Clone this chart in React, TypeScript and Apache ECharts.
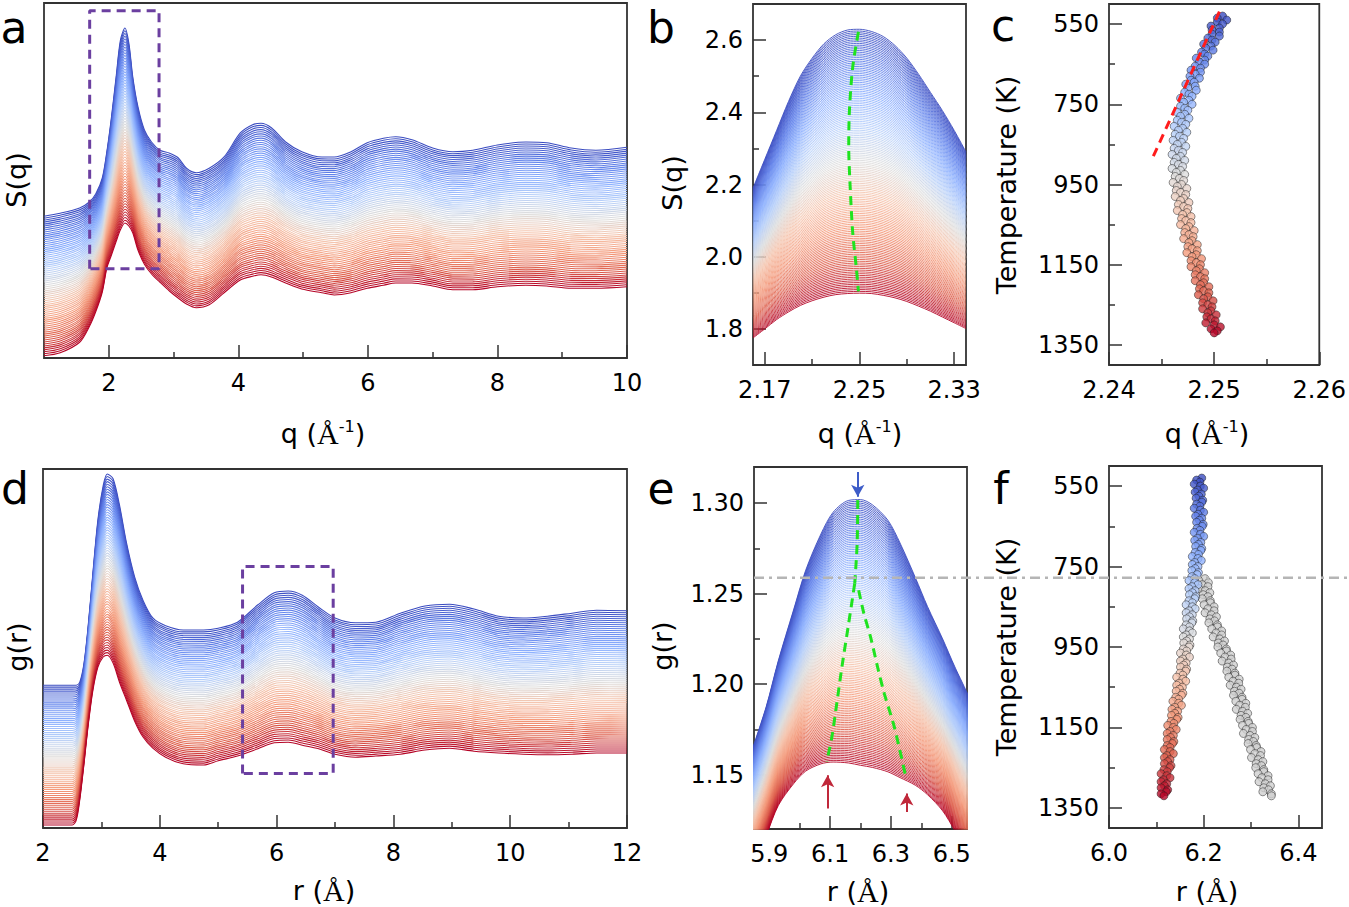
import React, { useEffect, useRef } from "react";
import * as echarts from "echarts";

const FONT = "DejaVu Sans";

// ---------- (a) S(q), waterfall (offset units, y axis hidden) ----------
const qA = [1.0, 1.25, 1.55, 1.7, 1.8, 1.9, 1.97, 2.04, 2.12, 2.18, 2.25, 2.31, 2.37, 2.45, 2.55, 2.66, 2.79, 2.94, 3.07, 3.2, 3.35, 3.55, 3.78, 4.03, 4.22, 4.35, 4.51, 4.73, 4.98, 5.29, 5.48, 5.74, 5.99, 6.24, 6.43, 6.68, 7.0, 7.31, 7.62, 8.0, 8.44, 8.76, 9.14, 9.52, 10.0];
const sqLowT_A = [1.89, 1.93, 2.0, 2.08, 2.19, 2.4, 2.75, 3.2, 3.8, 4.24, 4.4, 4.2, 3.75, 3.35, 3.04, 2.88, 2.77, 2.73, 2.67, 2.53, 2.47, 2.53, 2.68, 3.0, 3.11, 3.13, 3.07, 2.88, 2.75, 2.68, 2.68, 2.75, 2.87, 2.93, 2.95, 2.91, 2.8, 2.75, 2.77, 2.84, 2.88, 2.87, 2.8, 2.77, 2.81];
const sqHighT_A = [0.03, 0.07, 0.21, 0.42, 0.62, 0.88, 1.2, 1.37, 1.57, 1.71, 1.8, 1.76, 1.67, 1.44, 1.25, 1.12, 1.01, 0.89, 0.8, 0.72, 0.67, 0.71, 0.87, 1.04, 1.09, 1.11, 1.08, 1.0, 0.92, 0.87, 0.84, 0.87, 0.93, 0.97, 1.0, 1.0, 0.96, 0.91, 0.91, 0.95, 0.97, 0.96, 0.93, 0.93, 0.95];
const N_CURVES_A = 72;
const boxA_q = [1.705, 2.776];
const boxA_v = [1.19, 4.63];

// ---------- (b) S(q) near first peak ----------
const qB = [2.16, 2.17, 2.18, 2.19, 2.2, 2.21, 2.22, 2.23, 2.24, 2.25, 2.26, 2.27, 2.28, 2.29, 2.3, 2.31, 2.32, 2.33, 2.34];
const sqLowT_B = [2.19, 2.27, 2.35, 2.43, 2.5, 2.55, 2.59, 2.615, 2.628, 2.63, 2.624, 2.61, 2.585, 2.55, 2.505, 2.455, 2.405, 2.35, 2.29];
const sqHighT_B = [1.775, 1.8, 1.826, 1.847, 1.865, 1.878, 1.888, 1.895, 1.898, 1.899, 1.898, 1.893, 1.886, 1.876, 1.863, 1.849, 1.833, 1.817, 1.801];
const N_CURVES_B = 150;
const greenB = [[2.2491, 2.623], [2.2443, 2.526], [2.2415, 2.406], [2.2409, 2.305], [2.2421, 2.194], [2.2443, 2.065], [2.2472, 1.973], [2.2491, 1.904]];

// ---------- (c) peak position of S(q) vs temperature ----------
const T_START = 530;
const T_STEP = 5;
const qPeakC = [
  2.2508, 2.2503, 2.2512, 2.2503, 2.2508, 2.2497, 2.2505, 2.2498, 2.2505, 2.2498,
  2.2505, 2.2494, 2.2498, 2.2501, 2.249, 2.2497, 2.2492, 2.2499, 2.2488, 2.2491,
  2.2494, 2.2483, 2.2491, 2.2486, 2.2491, 2.2482, 2.2487, 2.2478, 2.2487, 2.2482,
  2.2477, 2.2486, 2.2478, 2.2481, 2.2473, 2.2482, 2.2475, 2.2483, 2.2472, 2.2476,
  2.2479, 2.2468, 2.2476, 2.2471, 2.2479, 2.2468, 2.2472, 2.2475, 2.2465, 2.2472,
  2.2468, 2.2476, 2.2465, 2.2469, 2.2473, 2.2462, 2.247, 2.2466, 2.2474, 2.2463,
  2.2467, 2.2471, 2.2461, 2.2469, 2.2465, 2.2473, 2.2462, 2.2466, 2.247, 2.246,
  2.2468, 2.2464, 2.2472, 2.2462, 2.2466, 2.247, 2.246, 2.2468, 2.2464, 2.2472,
  2.2463, 2.2467, 2.2471, 2.2461, 2.2469, 2.2465, 2.2474, 2.2464, 2.2468, 2.2473,
  2.2463, 2.2471, 2.2468, 2.2476, 2.2466, 2.2471, 2.2475, 2.2465, 2.2474, 2.247,
  2.2478, 2.2469, 2.2473, 2.2478, 2.2468, 2.2476, 2.2473, 2.2481, 2.2472, 2.2476,
  2.248, 2.2471, 2.2479, 2.2476, 2.2484, 2.2475, 2.2479, 2.2484, 2.2474, 2.2483,
  2.2479, 2.2488, 2.2478, 2.2483, 2.2487, 2.2478, 2.2486, 2.2483, 2.2491, 2.2482,
  2.2487, 2.2491, 2.2482, 2.249, 2.2487, 2.2495, 2.2486, 2.249, 2.2495, 2.2485,
  2.2494, 2.249, 2.2499, 2.2489, 2.2494, 2.2498, 2.2489, 2.2497, 2.2494, 2.2502,
  2.2493, 2.2497, 2.2501, 2.2492, 2.25, 2.2506, 2.2497, 2.2503, 2.25,
];
const redFitC = [[2.2505, 519], [2.244, 892]];

// ---------- (d) g(r), waterfall (offset units, y axis hidden) ----------
const rD = [2.0, 2.3, 2.5, 2.57, 2.63, 2.7, 2.77, 2.85, 2.94, 3.03, 3.1, 3.2, 3.31, 3.43, 3.57, 3.71, 3.88, 4.1, 4.4, 4.75, 5.0, 5.33, 5.68, 5.96, 6.2, 6.44, 6.72, 7.0, 7.35, 7.7, 8.12, 8.54, 8.96, 9.38, 9.8, 10.22, 10.64, 11.06, 11.48, 12.0];
const grLowT_D = [2.38, 2.38, 2.38, 2.38, 2.43, 2.73, 3.33, 4.2, 5.13, 5.7, 5.9, 5.82, 5.38, 4.75, 4.18, 3.8, 3.5, 3.37, 3.3, 3.3, 3.33, 3.43, 3.72, 3.92, 3.95, 3.88, 3.68, 3.5, 3.42, 3.43, 3.58, 3.7, 3.73, 3.65, 3.53, 3.5, 3.53, 3.58, 3.63, 3.62];
const grHighT_D = [0.05, 0.05, 0.05, 0.13, 0.47, 1.05, 1.68, 2.27, 2.68, 2.85, 2.88, 2.75, 2.43, 2.13, 1.78, 1.52, 1.33, 1.18, 1.07, 1.05, 1.12, 1.2, 1.32, 1.42, 1.43, 1.38, 1.32, 1.23, 1.18, 1.2, 1.23, 1.3, 1.33, 1.28, 1.25, 1.23, 1.22, 1.23, 1.25, 1.25];
const N_CURVES_D = 72;
const boxD_r = [5.417, 6.969];
const boxD_v = [0.91, 4.36];

// ---------- (e) g(r) near second peak ----------
const rE = [5.84, 5.89, 5.93, 5.98, 6.02, 6.07, 6.11, 6.16, 6.2, 6.24, 6.29, 6.33, 6.38, 6.42, 6.47, 6.51, 6.56];
const grLowT_E = [1.162, 1.1875, 1.213, 1.241, 1.263, 1.283, 1.295, 1.3015, 1.302, 1.299, 1.2906, 1.278, 1.259, 1.243, 1.225, 1.2096, 1.192];
const grHighT_E = [1.093, 1.116, 1.133, 1.145, 1.152, 1.156, 1.157, 1.1565, 1.1552, 1.154, 1.1516, 1.1484, 1.1442, 1.139, 1.13, 1.119, 1.104];
const N_CURVES_E = 150;
const greenE_main = [[6.191, 1.3017], [6.189, 1.2777], [6.181, 1.2556]];
const greenE_left = [[6.181, 1.2556], [6.161, 1.2335], [6.139, 1.2096], [6.122, 1.1893], [6.106, 1.1709], [6.089, 1.1571]];
const greenE_right = [[6.194, 1.2519], [6.211, 1.2391], [6.233, 1.2261], [6.256, 1.2096], [6.278, 1.1949], [6.311, 1.1764], [6.35, 1.1479]];
const arrowsE = [
  { from: [6.191, 1.3173], to: [6.191, 1.3035], color: "#3d5cc8" },
  { from: [6.092, 1.1313], to: [6.092, 1.1497], color: "#c0283a" },
  { from: [6.352, 1.1294], to: [6.352, 1.1396], color: "#c0283a" },
];
const GRAY_T = 778;

// ---------- (f) peak positions of g(r) vs temperature ----------
const rPeakLeftF = [
  6.196, 6.185, 6.192, 6.18, 6.193, 6.2, 6.187, 6.182, 6.195, 6.19,
  6.184, 6.198, 6.196, 6.185, 6.192, 6.18, 6.193, 6.2, 6.188, 6.183,
  6.196, 6.191, 6.185, 6.199, 6.197, 6.186, 6.192, 6.18, 6.193, 6.2,
  6.187, 6.181, 6.194, 6.189, 6.183, 6.196, 6.194, 6.182, 6.189, 6.176,
  6.188, 6.195, 6.181, 6.176, 6.188, 6.182, 6.175, 6.189, 6.186, 6.175,
  6.181, 6.169, 6.181, 6.188, 6.175, 6.169, 6.182, 6.176, 6.17, 6.183,
  6.181, 6.169, 6.176, 6.163, 6.176, 6.182, 6.169, 6.163, 6.176, 6.17,
  6.164, 6.177, 6.175, 6.163, 6.17, 6.157, 6.17, 6.176, 6.163, 6.157,
  6.17, 6.164, 6.158, 6.171, 6.169, 6.157, 6.164, 6.151, 6.163, 6.17,
  6.156, 6.151, 6.163, 6.158, 6.151, 6.164, 6.162, 6.15, 6.156, 6.143,
  6.156, 6.162, 6.148, 6.143, 6.155, 6.149, 6.142, 6.156, 6.153, 6.141,
  6.147, 6.135, 6.147, 6.153, 6.139, 6.133, 6.145, 6.139, 6.132, 6.146,
  6.143, 6.131, 6.137, 6.124, 6.136, 6.142, 6.129, 6.123, 6.136, 6.13,
  6.123, 6.137, 6.134, 6.123, 6.129, 6.117, 6.129, 6.136, 6.122, 6.117,
  6.129, 6.124, 6.117, 6.131, 6.128, 6.116, 6.123, 6.11, 6.122, 6.129,
  6.115, 6.11, 6.122, 6.117, 6.11, 6.124, 6.121, 6.11, 6.116,
];
const T_START_RIGHT = 780;
const rPeakRightF = [
  6.203, 6.19, 6.21, 6.197, 6.209, 6.19, 6.203, 6.213, 6.199, 6.209,
  6.197, 6.214, 6.214, 6.201, 6.222, 6.209, 6.222, 6.203, 6.216, 6.227,
  6.213, 6.223, 6.211, 6.229, 6.229, 6.217, 6.238, 6.226, 6.238, 6.22,
  6.234, 6.244, 6.231, 6.241, 6.23, 6.248, 6.248, 6.236, 6.257, 6.245,
  6.258, 6.239, 6.253, 6.263, 6.25, 6.26, 6.249, 6.266, 6.266, 6.253,
  6.275, 6.262, 6.274, 6.256, 6.269, 6.279, 6.265, 6.275, 6.263, 6.281,
  6.281, 6.268, 6.289, 6.276, 6.288, 6.269, 6.282, 6.293, 6.279, 6.289,
  6.277, 6.294, 6.295, 6.282, 6.303, 6.29, 6.303, 6.284, 6.298, 6.308,
  6.295, 6.305, 6.294, 6.311, 6.312, 6.299, 6.321, 6.308, 6.32, 6.301,
  6.315, 6.325, 6.311, 6.322, 6.31, 6.327, 6.327, 6.315, 6.336, 6.323,
  6.336, 6.317, 6.33, 6.341, 6.327, 6.337, 6.325, 6.343, 6.343,
];

// ---------- tick values ----------
const ticksA_x = [2, 4, 6, 8, 10];
const minorA_x = [3, 5, 7, 9];
const ticksB_x = [2.17, 2.25, 2.33];
const minorB_x = [2.21, 2.29];
const ticksB_y = [1.8, 2.0, 2.2, 2.4, 2.6];
const minorB_y = [1.7, 1.9, 2.1, 2.3, 2.5];
const ticksC_x = [2.24, 2.25, 2.26];
const minorC_x = [2.245, 2.255];
const ticksT = [550, 750, 950, 1150, 1350];
const minorT = [650, 850, 1050, 1250];
const ticksD_x = [2, 4, 6, 8, 10, 12];
const minorD_x = [3, 5, 7, 9, 11];
const ticksE_x = [5.9, 6.1, 6.3, 6.5];
const minorE_x = [6.0, 6.2, 6.4];
const ticksE_y = [1.15, 1.2, 1.25, 1.3];
const minorE_y = [1.125, 1.175, 1.225, 1.275];
const ticksF_x = [6.0, 6.2, 6.4];
const minorF_x = [6.1, 6.3];

// ---------- styling helpers ----------
const CW = [
  [59, 76, 192], [98, 130, 234], [141, 176, 254], [184, 208, 249], [221, 221, 221],
  [245, 196, 173], [244, 154, 123], [222, 96, 77], [180, 4, 38],
];
function coolwarm(t: number): string {
  const c = Math.max(0, Math.min(1, t)) * (CW.length - 1);
  const i = Math.min(CW.length - 2, Math.floor(c));
  const f = c - i;
  const a = CW[i], b = CW[i + 1];
  const m = (k: number) => Math.round(a[k] + (b[k] - a[k]) * f);
  return `rgb(${m(0)},${m(1)},${m(2)})`;
}

function family(xs: number[], low: number[], high: number[], n: number, xi: number, yi: number, width: number) {
  const out: any[] = [];
  for (let i = 0; i < n; i++) {
    const t = i / (n - 1);
    out.push({
      type: "line", xAxisIndex: xi, yAxisIndex: yi, silent: true, symbol: "none", smooth: 0.3,
      emphasis: { disabled: true }, z: 2,
      lineStyle: { color: coolwarm(t), width },
      data: xs.map((x, k) => [x, low[k] * (1 - t) + high[k] * t]),
    });
  }
  return out;
}

const TICK = { color: "#333", width: 1.5 };
function xMajor(grid: number, min: number, max: number, vals: number[], fmt: (v: number) => string) {
  return {
    type: "value", gridIndex: grid, min, max, position: "bottom",
    axisLine: { show: false }, splitLine: { show: false },
    axisTick: { show: true, inside: true, length: 13, customValues: vals, lineStyle: TICK },
    axisLabel: { show: true, customValues: vals, formatter: fmt, margin: 13, color: "#000", fontSize: 24, fontFamily: FONT },
  };
}
function xMinor(grid: number, min: number, max: number, vals: number[]) {
  return {
    type: "value", gridIndex: grid, min, max, position: "bottom",
    axisLine: { show: false }, splitLine: { show: false }, axisLabel: { show: false },
    axisTick: { show: true, inside: true, length: 6, customValues: vals, lineStyle: TICK },
  };
}
function yMajor(grid: number, min: number, max: number, vals: number[], fmt: (v: number) => string, inverse = false) {
  return {
    type: "value", gridIndex: grid, min, max, inverse, position: "left",
    axisLine: { show: false }, splitLine: { show: false },
    axisTick: { show: true, inside: true, length: 13, customValues: vals, lineStyle: TICK },
    axisLabel: { show: true, customValues: vals, formatter: fmt, margin: 10, color: "#000", fontSize: 24, fontFamily: FONT },
  };
}
function yMinor(grid: number, min: number, max: number, vals: number[], inverse = false) {
  return {
    type: "value", gridIndex: grid, min, max, inverse, position: "left",
    axisLine: { show: false }, splitLine: { show: false }, axisLabel: { show: false },
    axisTick: { show: true, inside: true, length: 6, customValues: vals, lineStyle: TICK },
  };
}
function grid(left: number, top: number, width: number, height: number) {
  return { left, top, width, height, show: true, borderColor: "#333", borderWidth: 1.8, backgroundColor: "transparent", containLabel: false };
}
function dashed(data: number[][], xi: number, yi: number, color: string, smooth = 0.3) {
  return {
    type: "line", xAxisIndex: xi, yAxisIndex: yi, data, symbol: "none", smooth, silent: true, z: 6,
    emphasis: { disabled: true }, lineStyle: { color, width: 3, type: [9, 6] },
  };
}
function boxSeries(xr: number[], yr: number[], xi: number, yi: number) {
  return dashed([[xr[0], yr[0]], [xr[0], yr[1]], [xr[1], yr[1]], [xr[1], yr[0]], [xr[0], yr[0]]], xi, yi, "#6b3fa0", 0);
}
function scatter(xs: number[], tStart: number, xi: number, yi: number, colorFn: (T: number) => string) {
  return {
    type: "scatter", xAxisIndex: xi, yAxisIndex: yi, symbolSize: 8, silent: true, z: 4,
    emphasis: { disabled: true },
    data: xs.map((x, k) => {
      const T = tStart + k * T_STEP;
      return { value: [x, T], itemStyle: { color: colorFn(T), borderColor: "#1a1a1a", borderWidth: 0.6 } };
    }),
  };
}
const T_END = T_START + (qPeakC.length - 1) * T_STEP;
const tColor = (T: number) => coolwarm((T - T_START) / (T_END - T_START));

const f1 = (v: number) => v.toFixed(1);
const f2 = (v: number) => v.toFixed(2);
const f0 = (v: number) => String(Math.round(v));

function buildOption() {
  return {
    animation: false,
    backgroundColor: "#fff",
    grid: [
      grid(44, 3, 583, 355),
      grid(753, 4, 213, 361),
      grid(1109, 4, 212, 361),
      grid(43, 469, 584, 359),
      grid(754, 467, 213, 362),
      grid(1109, 466, 213, 362),
    ],
    xAxis: [
      xMajor(0, 1, 10, ticksA_x, f0), xMinor(0, 1, 10, minorA_x),
      xMajor(1, 2.16, 2.34, ticksB_x, f2), xMinor(1, 2.16, 2.34, minorB_x),
      xMajor(2, 2.24, 2.26, ticksC_x, f2), xMinor(2, 2.24, 2.26, minorC_x),
      xMajor(3, 2, 12, ticksD_x, f0), xMinor(3, 2, 12, minorD_x),
      xMajor(4, 5.85, 6.55, ticksE_x, f1), xMinor(4, 5.85, 6.55, minorE_x),
      xMajor(5, 6.0, 6.45, ticksF_x, f1), xMinor(5, 6.0, 6.45, minorF_x),
    ],
    yAxis: [
      { type: "value", gridIndex: 0, min: 0, max: 4.733, show: false },
      yMajor(1, 1.7, 2.7, ticksB_y, f1), yMinor(1, 1.7, 2.7, minorB_y),
      yMajor(2, 500, 1400, ticksT, f0, true), yMinor(2, 500, 1400, minorT, true),
      { type: "value", gridIndex: 3, min: 0, max: 5.983, show: false },
      yMajor(4, 1.12, 1.32, ticksE_y, f2), yMinor(4, 1.12, 1.32, minorE_y),
      yMajor(5, 500, 1400, ticksT, f0, true), yMinor(5, 500, 1400, minorT, true),
    ],
    series: [
      ...family(qA, sqLowT_A, sqHighT_A, N_CURVES_A, 0, 0, 1.1),
      boxSeries(boxA_q, boxA_v, 0, 0),
      ...family(qB, sqLowT_B, sqHighT_B, N_CURVES_B, 2, 1, 0.9),
      dashed(greenB, 2, 1, "#1fe31f"),
      scatter(qPeakC, T_START, 4, 3, tColor),
      dashed(redFitC, 4, 3, "#ff1c1c", 0),
      ...family(rD, grLowT_D, grHighT_D, N_CURVES_D, 6, 5, 1.1),
      boxSeries(boxD_r, boxD_v, 6, 5),
      ...family(rE, grLowT_E, grHighT_E, N_CURVES_E, 8, 6, 0.9),
      dashed(greenE_main, 8, 6, "#1fe31f"),
      dashed(greenE_left, 8, 6, "#1fe31f"),
      dashed(greenE_right, 8, 6, "#1fe31f"),
      {
        type: "line", xAxisIndex: 8, yAxisIndex: 6, data: [], silent: true, z: 7,
        markLine: {
          silent: true, symbol: ["none", "arrow"], symbolSize: [10, 12], label: { show: false },
          animation: false,
          data: arrowsE.map((a) => [
            { coord: a.from, lineStyle: { color: a.color, width: 2, type: "solid" }, itemStyle: { color: a.color } },
            { coord: a.to },
          ]),
        },
      },
      scatter(rPeakRightF, T_START_RIGHT, 10, 8, () => "#cfcfcf"),
      scatter(rPeakLeftF, T_START, 10, 8, tColor),
    ],
  };
}

const qTitle = "{t|q (}{s|Å}{p|-1}{t|)}";
const rTitle = "{t|r (}{s|Å}{t|)}";
const rich = {
  t: { fontFamily: FONT, fontSize: 27, fill: "#000" },
  s: { fontFamily: "Liberation Serif", fontSize: 30, fill: "#000" },
  p: { fontFamily: FONT, fontSize: 16, fill: "#000", verticalAlign: "top" },
};

function textEl(x: number, y: number, text: string, size: number, rotate = false, useRich = false) {
  return {
    type: "text", x, y, rotation: rotate ? Math.PI / 2 : 0, silent: true, z: 50,
    style: {
      text, fill: "#000", fontSize: size, fontFamily: FONT, align: "center", verticalAlign: "middle",
      ...(useRich ? { rich } : {}),
    },
  };
}

export default function App() {
  const ref = useRef<HTMLDivElement>(null);
  useEffect(() => {
    const chart = echarts.init(ref.current!, undefined, { renderer: "svg", width: 1349, height: 907 });
    chart.setOption(buildOption() as any);
    const yPix = chart.convertToPixel({ yAxisIndex: 8 } as any, GRAY_T) as unknown as number;
    const xStart = chart.convertToPixel({ xAxisIndex: 8 } as any, 5.85) as unknown as number;
    const letters = [["a", 14, 27], ["b", 661, 27], ["c", 1003, 25], ["d", 15, 488], ["e", 661, 488], ["f", 1001, 488]];
    const graphic: any[] = [
      ...letters.map(([t, x, y]) => textEl(x as number, y as number, t as string, 44)),
      textEl(323, 433, qTitle, 27, false, true),
      textEl(860, 433, qTitle, 27, false, true),
      textEl(1207, 433, qTitle, 27, false, true),
      textEl(324, 890, rTitle, 27, false, true),
      textEl(858, 891, rTitle, 27, false, true),
      textEl(1207, 891, rTitle, 27, false, true),
      textEl(16, 180, "S(q)", 27, true),
      textEl(672, 183, "S(q)", 27, true),
      textEl(1006, 185, "Temperature (K)", 27, true),
      textEl(17, 647, "g(r)", 27, true),
      textEl(662, 646, "g(r)", 27, true),
      textEl(1006, 647, "Temperature (K)", 27, true),
      {
        type: "line", silent: true, z: 60,
        shape: { x1: xStart, y1: yPix, x2: 1349, y2: yPix },
        style: { stroke: "#b5b5b5", lineWidth: 2.5, lineDash: [10, 5, 3, 5] },
      },
    ];
    chart.setOption({ graphic });
    return () => chart.dispose();
  }, []);
  return (
    <div
      ref={ref}
      style={{ position: "fixed", left: 0, top: 0, width: 1349, height: 907, background: "#fff" }}
    />
  );
}
